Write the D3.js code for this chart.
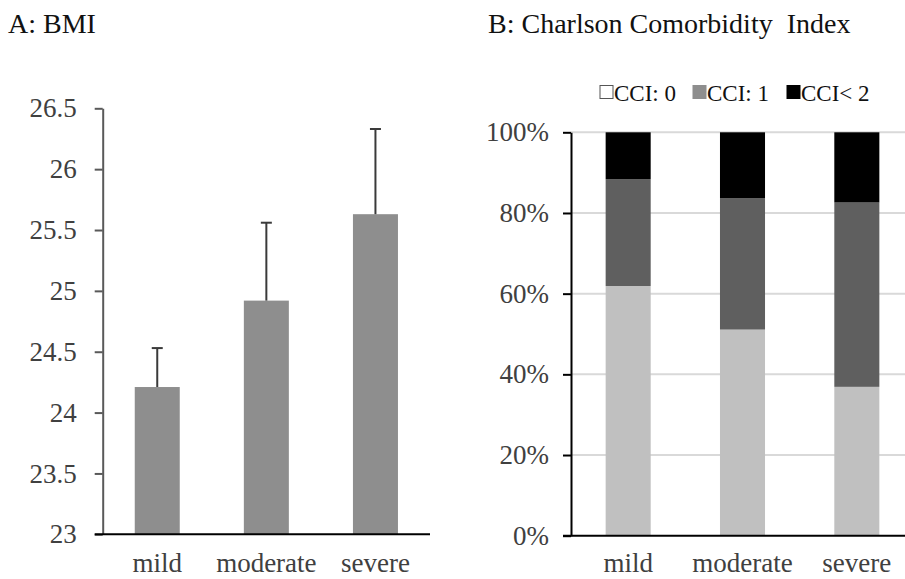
<!DOCTYPE html>
<html><head><meta charset="utf-8">
<script src="https://cdn.jsdelivr.net/npm/d3@7"></script>
<style>
html,body{margin:0;padding:0;background:#fff;}
text{font-family:"Liberation Serif","Times New Roman",serif;}
</style></head>
<body>
<script>
// ---- Data ----
const categories = ["mild", "moderate", "severe"];
const bmiMean = [24.21, 24.92, 25.63];
const bmiUpper = [24.53, 25.56, 26.33];
const bmiTicks = [23, 23.5, 24, 24.5, 25, 25.5, 26, 26.5];
const bmiTickLabels = ["23", "23.5", "24", "24.5", "25", "25.5", "26", "26.5"];
const seriesNames = ["CCI: 0", "CCI: 1", "CCI< 2"];
const cci0 = [61.9, 51.1, 36.9];
const cci1 = [26.5, 32.6, 45.7];
const cci2 = [11.6, 16.3, 17.4];
const pctTicks = [0, 20, 40, 60, 80, 100];
const pctTickLabels = ["0%", "20%", "40%", "60%", "80%", "100%"];

const W = 905, H = 579;
const svg = d3.select("body").append("svg").attr("width", W).attr("height", H);

// Titles
svg.append("text").attr("x", 8).attr("y", 33).attr("font-size", 28).attr("fill", "#111").text("A: BMI");
svg.append("text").attr("x", 488).attr("y", 33).attr("font-size", 28).attr("fill", "#111")
  .attr("xml:space", "preserve").style("white-space", "pre").text("B: Charlson Comorbidity  Index");

// ---- Chart A ----
const ax0 = 102.7, ax1 = 430;
const xA = d3.scaleBand().domain(categories).range([ax0, ax1]).paddingInner(0.5875).paddingOuter(0.29375);
const yA = d3.scaleLinear().domain([23, 26.5]).range([534.3, 108.3]);
const gA = svg.append("g");

gA.selectAll("rect.bar").data(categories).join("rect")
  .attr("x", d => xA(d)).attr("width", xA.bandwidth())
  .attr("y", (d, i) => yA(bmiMean[i])).attr("height", (d, i) => yA(23) - yA(bmiMean[i]))
  .attr("fill", "#8e8e8e");

// error bars
const errG = gA.append("g").attr("stroke", "#3a3a3a").attr("stroke-width", 2);
categories.forEach((c, i) => {
  const cx = xA(c) + xA.bandwidth() / 2;
  errG.append("line").attr("x1", cx).attr("x2", cx).attr("y1", yA(bmiMean[i])).attr("y2", yA(bmiUpper[i]));
  errG.append("line").attr("x1", cx - 5.5).attr("x2", cx + 5.5).attr("y1", yA(bmiUpper[i])).attr("y2", yA(bmiUpper[i]));
});

const yAxisA = gA.append("g").attr("transform", `translate(${ax0},0)`)
  .call(d3.axisLeft(yA).tickValues(bmiTicks).tickFormat((d, i) => bmiTickLabels[i]).tickSize(8).tickSizeOuter(0).tickPadding(18));
yAxisA.selectAll("path,line").attr("stroke", "#595959").attr("stroke-width", 2);
yAxisA.selectAll("text").attr("font-size", 27).attr("fill", "#404040").style("font-family", '"Liberation Serif",serif');

gA.append("line").attr("x1", ax0 - 8).attr("x2", ax1).attr("y1", yA(23)).attr("y2", yA(23))
  .attr("stroke", "#000").attr("stroke-width", 2);

const xAxisA = gA.append("g").attr("transform", `translate(0,${yA(23)})`)
  .call(d3.axisBottom(xA).tickSize(0).tickPadding(18.5));
xAxisA.select(".domain").remove();
xAxisA.selectAll("text").attr("font-size", 27).attr("fill", "#404040").style("font-family", '"Liberation Serif",serif');

// ---- Chart B ----
const bx0 = 571, bx1 = 914;
const xB = d3.scaleBand().domain(categories).range([bx0, bx1]).paddingInner(0.606).paddingOuter(0.303);
const yB = d3.scaleLinear().domain([0, 100]).range([535.7, 132.3]);
const gB = svg.append("g");

// gridlines
gB.selectAll("line.grid").data(pctTicks.slice(1)).join("line")
  .attr("x1", bx0).attr("x2", W).attr("y1", d => yB(d)).attr("y2", d => yB(d))
  .attr("stroke", "#d9d9d9").attr("stroke-width", 2);

const table = categories.map((c, i) => ({cat: c, s0: cci0[i], s1: cci1[i], s2: cci2[i]}));
const stack = d3.stack().keys(["s0", "s1", "s2"])(table);
const fills = ["#c0c0c0", "#5f5f5f", "#000000"];
gB.selectAll("g.layer").data(stack).join("g").attr("fill", (d, i) => fills[i])
  .selectAll("rect").data(d => d).join("rect")
  .attr("x", d => xB(d.data.cat)).attr("width", xB.bandwidth())
  .attr("y", d => yB(Math.min(100, d[1]))).attr("height", d => yB(d[0]) - yB(Math.min(100, d[1])));

const yAxisB = gB.append("g").attr("transform", `translate(${bx0},0)`)
  .call(d3.axisLeft(yB).tickValues(pctTicks).tickFormat((d, i) => pctTickLabels[i]).tickSize(8).tickSizeOuter(0).tickPadding(14));
yAxisB.selectAll("path,line").attr("stroke", "#000").attr("stroke-width", 2);
yAxisB.selectAll("text").attr("font-size", 27).attr("fill", "#404040").style("font-family", '"Liberation Serif",serif');

gB.append("line").attr("x1", bx0 - 8).attr("x2", W).attr("y1", yB(0)).attr("y2", yB(0))
  .attr("stroke", "#000").attr("stroke-width", 2);

const xAxisB = gB.append("g").attr("transform", `translate(0,${yB(0)})`)
  .call(d3.axisBottom(xB).tickSize(0).tickPadding(17));
xAxisB.select(".domain").remove();
xAxisB.selectAll("text").attr("font-size", 27).attr("fill", "#404040").style("font-family", '"Liberation Serif",serif');

// Legend
const legendX = [600, 693, 787];
const swFill = ["#ffffff", "#8e8e8e", "#000000"];
const lg = svg.append("g");
seriesNames.forEach((n, i) => {
  lg.append("rect").attr("x", legendX[i]).attr("y", 85.5).attr("width", 13).attr("height", 13)
    .attr("fill", swFill[i]).attr("stroke", i === 0 ? "#555" : swFill[i]).attr("stroke-width", 1);
  lg.append("text").attr("x", legendX[i] + 14).attr("y", 100.5).attr("font-size", 23).attr("fill", "#111").text(n);
});
</script>
</body></html>
